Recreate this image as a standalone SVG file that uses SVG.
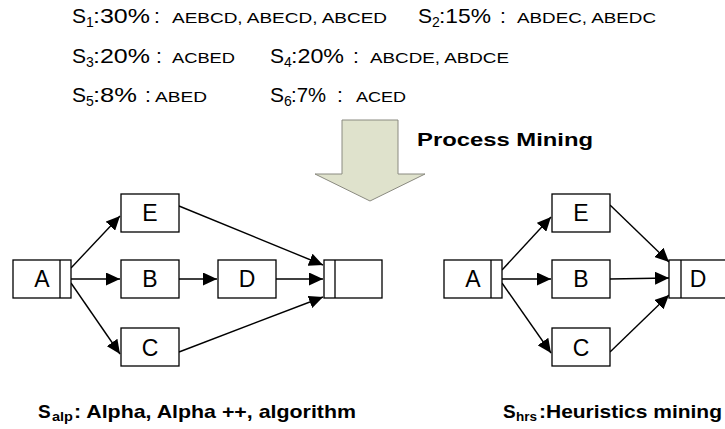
<svg xmlns="http://www.w3.org/2000/svg" width="725" height="429" viewBox="0 0 725 429">
<style>
text{font-family:"Liberation Sans",Arial,sans-serif;fill:#000}
.big{font-size:21px}
.sub{font-size:14px}
.seq{font-size:15.5px}
.lbl{font-size:23px;text-anchor:middle}
.bold{font-weight:bold}
.box{fill:#fff;stroke:#000;stroke-width:1.3}
.edge{stroke:#000;stroke-width:1.4;fill:none;marker-end:url(#ah)}
</style>
<defs>
<marker id="ah" markerUnits="userSpaceOnUse" markerWidth="15" markerHeight="13" refX="14" refY="6.5" orient="auto">
<path d="M0,0 L14,6.5 L0,13 z" fill="#000"/>
</marker>
</defs>
<rect width="725" height="429" fill="#fff"/>

<g id="traces">
<text class="big" x="72" y="23">S</text><text class="sub" x="86" y="27">1</text>
<text class="big" x="93" y="23" textLength="57" lengthAdjust="spacingAndGlyphs">:30%</text>
<text class="big" x="154" y="23">:</text>
<text class="seq" x="172" y="23" textLength="215" lengthAdjust="spacingAndGlyphs">AEBCD, ABECD, ABCED</text>
<text class="big" x="418" y="23">S</text><text class="sub" x="432" y="27">2</text>
<text class="big" x="439" y="23" textLength="52" lengthAdjust="spacingAndGlyphs">:15%</text>
<text class="big" x="500" y="23">:</text>
<text class="seq" x="517" y="23" textLength="139" lengthAdjust="spacingAndGlyphs">ABDEC, ABEDC</text>

<text class="big" x="72" y="63">S</text><text class="sub" x="86" y="67">3</text>
<text class="big" x="93" y="63" textLength="57" lengthAdjust="spacingAndGlyphs">:20%</text>
<text class="big" x="156" y="63">:</text>
<text class="seq" x="172" y="63" textLength="63" lengthAdjust="spacingAndGlyphs">ACBED</text>
<text class="big" x="270" y="63">S</text><text class="sub" x="284" y="67">4</text>
<text class="big" x="291" y="63" textLength="53" lengthAdjust="spacingAndGlyphs">:20%</text>
<text class="big" x="353" y="63">:</text>
<text class="seq" x="370" y="63" textLength="139" lengthAdjust="spacingAndGlyphs">ABCDE, ABDCE</text>

<text class="big" x="72" y="102">S</text><text class="sub" x="86" y="106">5</text>
<text class="big" x="93" y="102" textLength="44" lengthAdjust="spacingAndGlyphs">:8%</text>
<text class="big" x="145" y="102">:</text>
<text class="seq" x="155" y="102" textLength="52" lengthAdjust="spacingAndGlyphs">ABED</text>
<text class="big" x="270" y="102">S</text><text class="sub" x="284" y="106">6</text>
<text class="big" x="291" y="102" textLength="35" lengthAdjust="spacingAndGlyphs">:7%</text>
<text class="big" x="337" y="102">:</text>
<text class="seq" x="356" y="102" textLength="50" lengthAdjust="spacingAndGlyphs">ACED</text>
</g>

<g id="mining-arrow">
<path d="M342,120 H398 V174 H425 L370,201 L315,174 H342 Z" fill="#dfe2cc" stroke="#8a8a80" stroke-width="1"/>
<text class="bold" x="417" y="146" font-size="19" textLength="176" lengthAdjust="spacingAndGlyphs">Process Mining</text>
</g>

<g id="connectors">
<line class="edge" x1="71" y1="268" x2="120" y2="216"/>
<line class="edge" x1="71" y1="279" x2="120" y2="279"/>
<line class="edge" x1="71" y1="283" x2="120" y2="354"/>
<line class="edge" x1="179" y1="279" x2="217" y2="279"/>
<line class="edge" x1="179" y1="206" x2="323" y2="265"/>
<line class="edge" x1="276" y1="279" x2="323" y2="279"/>
<line class="edge" x1="179" y1="352" x2="323" y2="297"/>

<line class="edge" x1="502" y1="270" x2="551" y2="217"/>
<line class="edge" x1="502" y1="279" x2="551" y2="279"/>
<line class="edge" x1="502" y1="283" x2="551" y2="353"/>
<line class="edge" x1="610" y1="205" x2="669" y2="262"/>
<line class="edge" x1="610" y1="279" x2="669" y2="278"/>
<line class="edge" x1="610" y1="352" x2="669" y2="295"/>
</g>

<g id="alp-A"><rect class="box" x="13" y="260" width="58" height="38"/><line x1="60" y1="260" x2="60" y2="298" stroke="#000" stroke-width="1.3"/><text class="lbl" x="42" y="287">A</text></g>
<g id="alp-E"><rect class="box" x="121" y="194" width="58" height="38"/><text class="lbl" x="150" y="221">E</text></g>
<g id="alp-B"><rect class="box" x="121" y="260" width="58" height="38"/><text class="lbl" x="150" y="287">B</text></g>
<g id="alp-C"><rect class="box" x="121" y="328" width="58" height="38"/><text class="lbl" x="150" y="356">C</text></g>
<g id="alp-D"><rect class="box" x="218" y="260" width="58" height="38"/><text class="lbl" x="247" y="287">D</text></g>
<g id="alp-end"><rect class="box" x="324" y="260" width="58" height="38"/><line x1="335" y1="260" x2="335" y2="298" stroke="#000" stroke-width="1.3"/></g>

<g id="hrs-A"><rect class="box" x="444" y="260" width="58" height="38"/><line x1="491" y1="260" x2="491" y2="298" stroke="#000" stroke-width="1.3"/><text class="lbl" x="473" y="287">A</text></g>
<g id="hrs-E"><rect class="box" x="552" y="194" width="58" height="38"/><text class="lbl" x="581" y="221">E</text></g>
<g id="hrs-B"><rect class="box" x="552" y="260" width="58" height="38"/><text class="lbl" x="581" y="287">B</text></g>
<g id="hrs-C"><rect class="box" x="552" y="328" width="58" height="38"/><text class="lbl" x="581" y="356">C</text></g>
<g id="hrs-D"><rect class="box" x="669" y="260" width="60" height="38"/><line x1="681" y1="260" x2="681" y2="298" stroke="#000" stroke-width="1.3"/><text class="lbl" x="698" y="287">D</text></g>

<g id="captions">
<text class="bold" x="38" y="418" font-size="19">S</text>
<text class="bold" x="52" y="421" font-size="13" textLength="21" lengthAdjust="spacingAndGlyphs">alp</text>
<text class="bold" x="74" y="418" font-size="19" textLength="282" lengthAdjust="spacingAndGlyphs">: Alpha, Alpha ++, algorithm</text>
<text class="bold" x="503" y="418" font-size="19">S</text>
<text class="bold" x="516" y="421" font-size="13" textLength="21" lengthAdjust="spacingAndGlyphs">hrs</text>
<text class="bold" x="539" y="418" font-size="19" textLength="183" lengthAdjust="spacingAndGlyphs">:Heuristics mining</text>
</g>
</svg>
